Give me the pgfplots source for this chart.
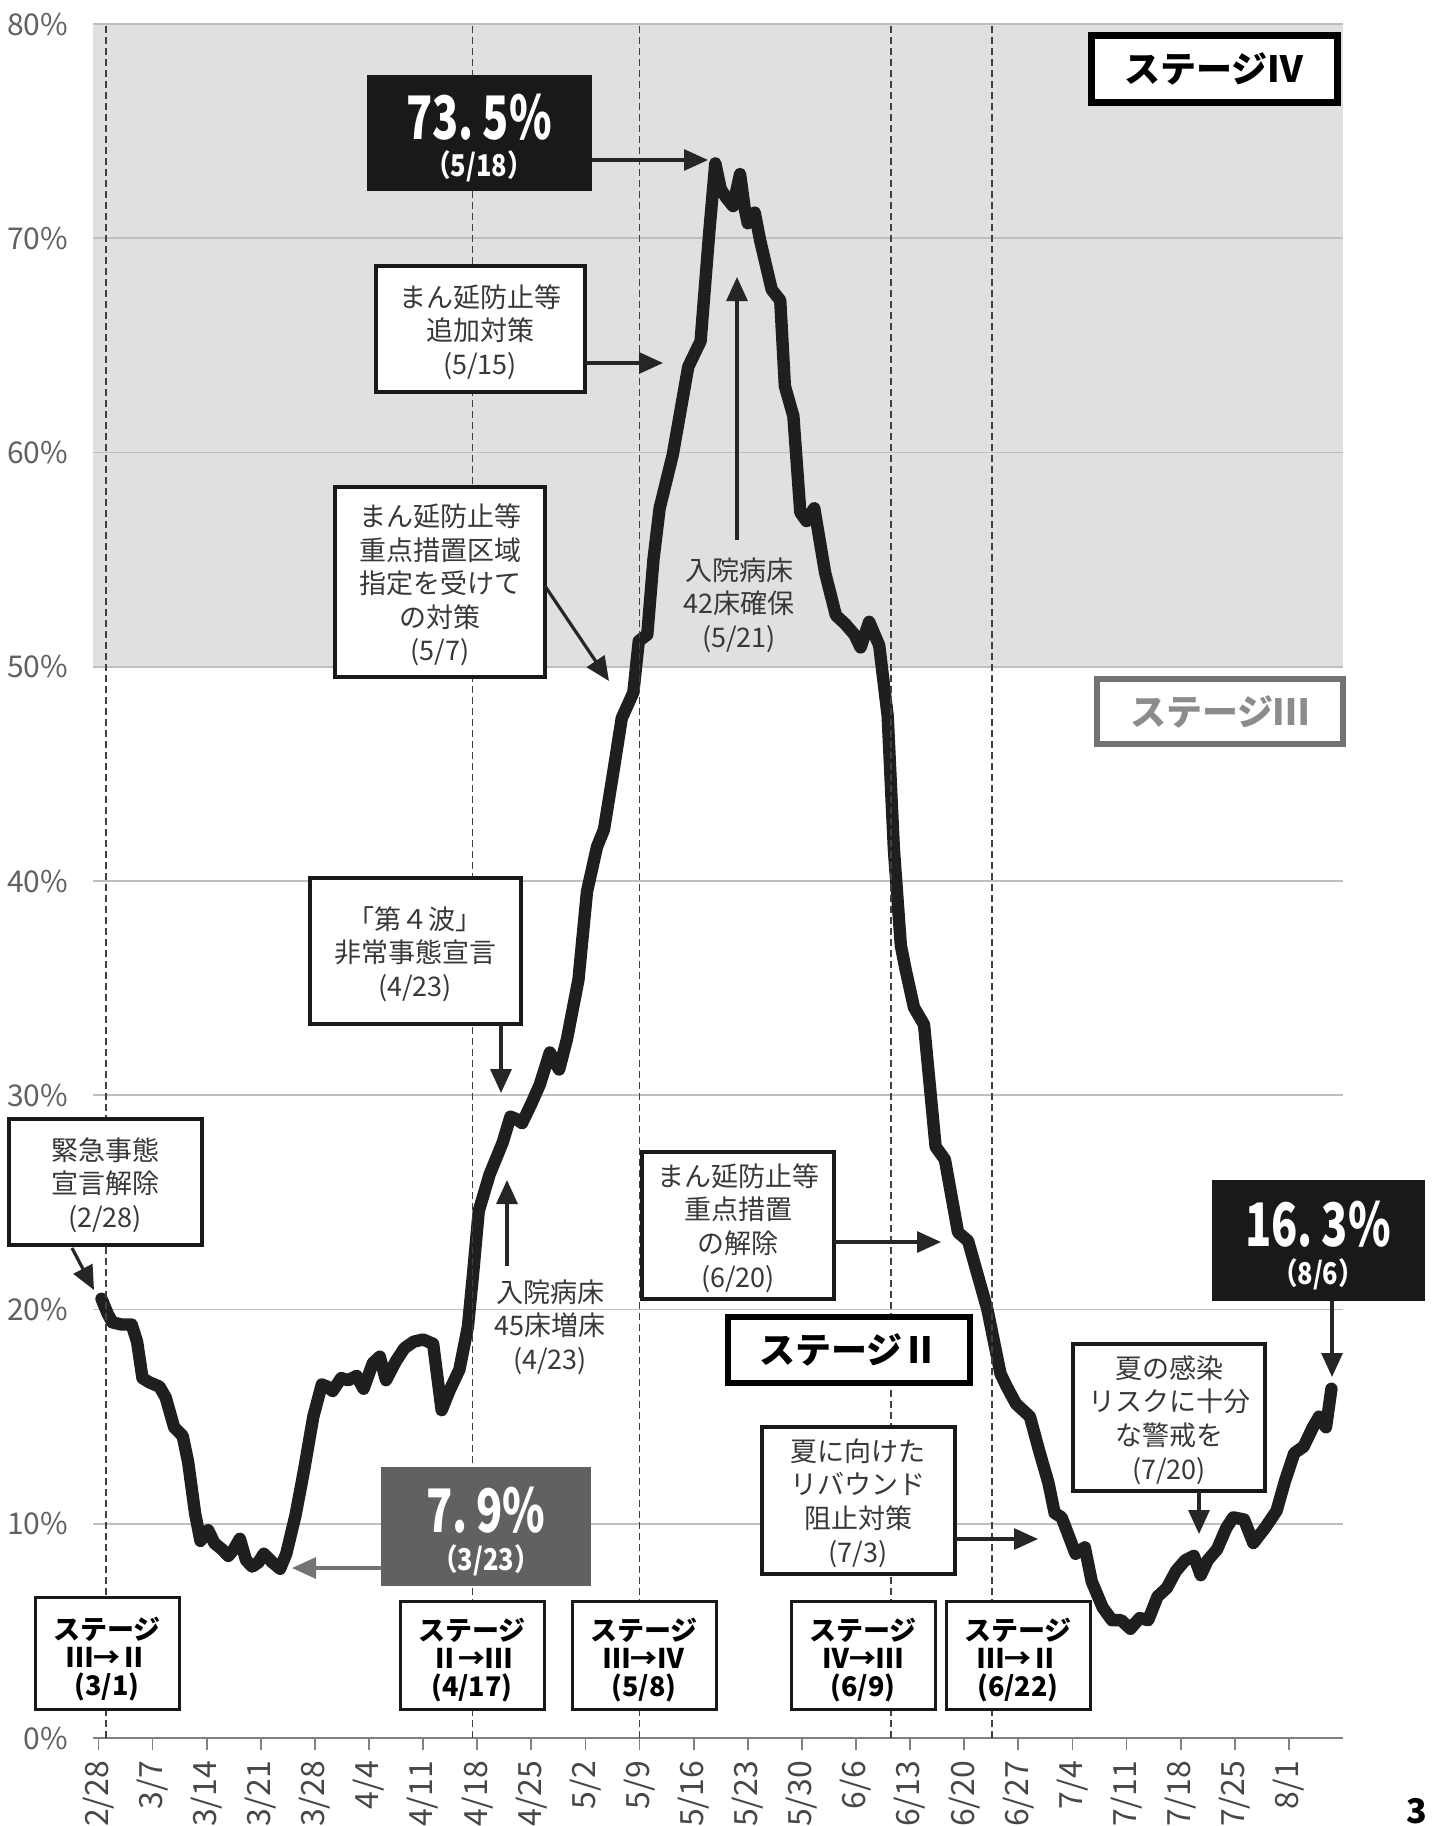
\documentclass[border=0pt]{standalone}
\usepackage{pgfplots}
\pgfplotsset{compat=1.18}
\usepackage{fontspec}
\usepackage{graphicx}
\usetikzlibrary{arrows.meta}
\setmainfont{Noto Sans CJK JP}
\newfontfamily\jp{Noto Sans CJK JP}

\pgfplotstableread{
d v
0.4 20.5
1.2 19.8
1.8 19.4
3.0 19.3
4.3 19.3
5.0 18.5
5.7 16.8
6.6 16.6
7.9 16.4
8.7 15.9
9.8 14.5
10.9 14.1
11.6 12.9
12.5 10.5
13.2 9.2
14.2 9.7
15.0 9.1
16.0 8.8
16.8 8.5
17.5 8.8
18.3 9.3
19.1 8.3
19.9 8.0
20.7 8.2
21.4 8.6
22.5 8.2
23.5 7.9
24.3 8.6
25.5 10.4
26.6 12.5
27.8 15.0
28.9 16.5
29.6 16.4
30.3 16.2
31.4 16.8
32.3 16.7
33.4 16.9
34.3 16.3
35.5 17.5
36.4 17.8
37.2 16.7
38.5 17.6
39.6 18.2
40.8 18.5
42.0 18.6
43.3 18.4
44.4 15.3
45.4 16.2
46.7 17.2
47.8 19.2
48.5 21.8
49.2 24.6
50.6 26.3
52.3 27.8
53.3 29.0
54.0 28.9
54.8 28.7
56.0 29.6
57.1 30.5
58.4 32.0
59.6 31.2
60.6 32.6
62.1 35.4
63.2 39.5
64.5 41.6
65.4 42.4
66.7 45.3
67.7 47.6
69.2 48.8
69.9 51.2
71.0 51.5
71.8 55.0
72.6 57.4
74.3 59.9
76.3 64.0
77.9 65.2
79.0 70.2
79.8 73.5
80.5 72.3
81.2 71.9
82.1 71.5
83.0 73.0
83.6 71.4
84.0 70.7
84.9 71.2
85.6 69.9
87.1 67.6
88.2 67.1
88.8 63.1
89.9 61.7
90.8 57.2
91.6 56.8
92.6 57.4
94.0 54.4
95.4 52.4
96.6 52.0
97.8 51.5
98.6 50.9
99.7 52.1
101.0 51.0
102.1 47.7
102.9 41.5
103.8 37.0
104.4 35.9
105.5 34.1
106.8 33.3
108.3 27.6
109.5 27.0
111.2 23.6
112.5 23.2
115.0 20.0
116.7 17.0
117.5 16.4
118.7 15.6
120.5 15.0
121.7 13.4
122.9 11.9
123.7 10.5
124.6 10.3
126.4 8.6
127.6 8.9
128.5 7.3
129.9 6.1
131.1 5.5
132.3 5.5
133.5 5.1
134.7 5.6
135.8 5.5
137.0 6.6
138.2 7.0
139.4 7.8
140.6 8.3
141.7 8.5
142.6 7.6
143.5 8.3
144.7 8.8
145.9 9.8
146.8 10.3
148.2 10.2
149.4 9.1
150.9 9.8
152.4 10.6
153.5 12.0
154.7 13.3
155.9 13.6
157.1 14.5
157.9 15.0
158.8 14.5
159.5 16.3
}\occupancy

\tikzset{
  bx/.style={draw=black!90, line width=1.7pt, fill=white},
  tx/.style={align=center, text=black!78, inner sep=0pt,
    font=\jp\fontsize{13.5}{16.8}\selectfont},
  st/.style={align=center, text=black, inner sep=0pt,
    font=\jp\bfseries\fontsize{13.5}{13.8}\selectfont},
  ar/.style={draw=black!85, line width=1.6pt, -{Triangle[length=12pt,width=10.5pt]}},
  big/.style={text=white, inner sep=0pt, font=\jp\bfseries\fontsize{30}{30}\selectfont},
  sub/.style={text=white, inner sep=0pt, font=\jp\bfseries\fontsize{15}{15}\selectfont},
}

\begin{document}
\begin{tikzpicture}
\begin{axis}[
  at={(46.5pt,-869pt)}, anchor=south west,
  scale only axis, width=625pt, height=857pt,
  set layers,
  xmin=-0.7, xmax=161, ymin=0, ymax=80,
  axis lines*=left,
  y axis line style={draw=none},
  x axis line style={black!50, line width=0.9pt},
  xtick={0,7,...,154},
  xticklabels={2/28,3/7,3/14,3/21,3/28,4/4,4/11,4/18,4/25,5/2,5/9,5/16,5/23,5/30,6/6,6/13,6/20,6/27,7/4,7/11,7/18,7/25,8/1},
  xticklabel style={yshift=-2pt, rotate=90, anchor=east, text=black!72,
    font=\jp\fontsize{16}{16}\selectfont},
  tick align=outside, major tick length=6pt,
  xtick style={black!50, line width=0.9pt},
  ytick={0,10,...,80},
  yticklabels={0\%,10\%,20\%,30\%,40\%,50\%,60\%,70\%,80\%},
  yticklabel style={text=black!62, font=\jp\fontsize{15}{15}\selectfont, xshift=-3pt},
  ytick style={draw=none},
  ymajorgrids, grid style={black!25, line width=0.8pt},
]
\addplot[fill=black!12, draw=none, on layer=axis background]
  coordinates {(-0.7,50) (161,50) (161,80) (-0.7,80)} -- cycle;
\addplot[black!88, line width=6.2pt, line join=round, line cap=round] table[x=d, y=v] {\occupancy};
\pgfplotsinvokeforeach{1,48.4,70,102.5,115.6}{
  \draw[black!75, line width=0.9pt, dash pattern=on 3.5pt off 2pt] (axis cs:#1,0) -- (axis cs:#1,80);
}
\end{axis}

\begin{scope}[x=0.5pt,y=-0.5pt]
% stage IV / III / II labels
\draw[draw=black, line width=3.5pt, fill=white] (1091,35) rectangle (1337,102);
\node[st, font=\jp\bfseries\fontsize{18}{18}\selectfont] at (1214,69) {ステージⅣ};
\draw[draw=black!55, line width=3pt, fill=white] (1097,679) rectangle (1343,744);
\node[st, text=black!45, font=\jp\bfseries\fontsize{18}{18}\selectfont] at (1220,712) {ステージⅢ};
\draw[draw=black, line width=3pt, fill=white] (728,1317) rectangle (970,1383);
\node[st, font=\jp\bfseries\fontsize{18}{18}\selectfont] at (849,1350) {ステージⅡ};

% peak value
\fill[black!90] (367,75) rectangle (592,191);
\node[big] at (479,117) {\scalebox{0.72}[1]{73.\hspace{0.2em}5\%}};
\node[sub] at (479,166) {\scalebox{0.85}[1]{（5/18）}};
\draw[ar] (592,160) -- (708,160);

% latest value
\fill[black!90] (1212,1180) rectangle (1425,1301);
\node[big] at (1318,1224) {\scalebox{0.72}[1]{16.\hspace{0.2em}3\%}};
\node[sub] at (1318,1274) {\scalebox{0.85}[1]{（8/6）}};
\draw[ar] (1332,1301) -- (1332,1377);

% minimum value
\fill[black!62] (381,1467) rectangle (591,1586);
\node[big] at (486,1510) {\scalebox{0.72}[1]{7.\hspace{0.2em}9\%}};
\node[sub] at (486,1560) {\scalebox{0.85}[1]{（3/23）}};
\draw[ar, draw=black!55] (381,1568) -- (292,1568);

% measures
\draw[bx] (376,266) rectangle (585,392);
\node[tx] at (480,332) {まん延防止等\\追加対策\\(5/15)};
\draw[ar] (585,363) -- (663,363);

\draw[bx] (335,487) rectangle (545,677);
\node[tx] at (440,585) {まん延防止等\\重点措置区域\\指定を受けて\\の対策\\(5/7)};
\draw[ar] (545,586) -- (609,681);

\node[tx] at (739,605) {入院病床\\42床確保\\(5/21)};
\draw[ar] (737,540) -- (737,277);

\draw[bx] (310,878) rectangle (521,1024);
\node[tx] at (415,954) {「第４波」\\非常事態宣言\\(4/23)};
\draw[ar] (501,1024) -- (501,1093);

\draw[bx] (9,1119) rectangle (202,1245);
\node[tx] at (105,1185) {緊急事態\\宣言解除\\(2/28)};
\draw[ar] (72,1248) -- (94,1290);

\node[tx] at (550,1327) {入院病床\\45床増床\\(4/23)};
\draw[ar] (507,1266) -- (507,1180);

\draw[bx] (642,1152) rectangle (834,1299);
\node[tx] at (738,1228) {まん延防止等\\重点措置\\の解除\\(6/20)};
\draw[ar] (834,1242) -- (941,1242);

\draw[bx] (1073,1344) rectangle (1265,1491);
\node[tx] at (1169,1420) {夏の感染\\リスクに十分\\な警戒を\\(7/20)};
\draw[ar] (1199,1491) -- (1199,1534);

\draw[bx] (762,1427) rectangle (955,1574);
\node[tx] at (858,1503) {夏に向けた\\リバウンド\\阻止対策\\(7/3)};
\draw[ar] (955,1539) -- (1038,1539);

% stage transitions
\draw[bx, line width=1.5pt] (35,1597) rectangle (179,1709);
\node[st] at (107,1659) {ステージ\\Ⅲ→Ⅱ\\(3/1)};
\draw[bx, line width=1.5pt] (400,1601) rectangle (544,1709);
\node[st] at (472,1660) {ステージ\\Ⅱ→Ⅲ\\(4/17)};
\draw[bx, line width=1.5pt] (572,1601) rectangle (716,1709);
\node[st] at (644,1660) {ステージ\\Ⅲ→Ⅳ\\(5/8)};
\draw[bx, line width=1.5pt] (791,1601) rectangle (935,1709);
\node[st] at (863,1660) {ステージ\\Ⅳ→Ⅲ\\(6/9)};
\draw[bx, line width=1.5pt] (946,1601) rectangle (1090,1709);
\node[st] at (1018,1660) {ステージ\\Ⅲ→Ⅱ\\(6/22)};

\node[anchor=north, inner sep=0pt, font=\jp\bfseries\fontsize{17}{17}\selectfont] at (1417,1798) {3};

\pgfresetboundingbox
\path[use as bounding box] (0,0) rectangle (1439,1826);
\end{scope}
\end{tikzpicture}
\end{document}
